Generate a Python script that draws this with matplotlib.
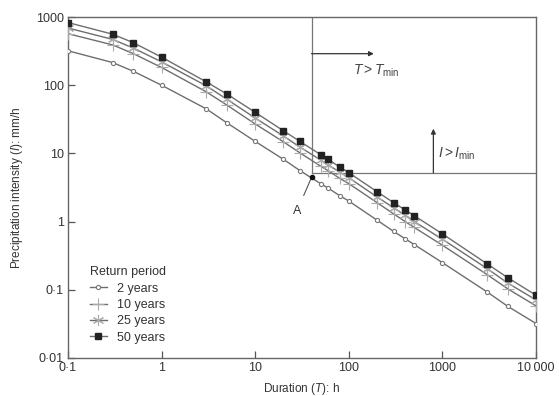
import numpy as np
import matplotlib
matplotlib.use("Agg")
import matplotlib.pyplot as plt

plt.rcParams['font.family'] = ['Liberation Sans', 'DejaVu Sans']
plt.rcParams['mathtext.fontset'] = 'custom'
plt.rcParams['mathtext.rm'] = 'Liberation Sans'
plt.rcParams['mathtext.it'] = 'Liberation Sans:italic'

# storm duration (h)
duration = [0.1, 0.3, 0.5, 1, 3, 5, 10, 20, 30, 50, 60, 80, 100,
            200, 300, 400, 500, 1000, 3000, 5000, 10000]

# precipitation intensity (mm/h) for each return period
i_2yr = [320, 215, 160, 100, 45, 28, 15, 8.2, 5.6, 3.6, 3.1, 2.4, 2.0,
         1.05, 0.72, 0.56, 0.46, 0.25, 0.093, 0.057, 0.032]
i_10yr = [570, 390, 290, 182, 80, 51, 27, 14.8, 10.2, 6.5, 5.6, 4.3, 3.6,
          1.9, 1.3, 1.0, 0.82, 0.45, 0.167, 0.103, 0.058]
i_25yr = [690, 470, 350, 220, 98, 62, 33, 18, 12.4, 8.0, 6.8, 5.3, 4.4,
          2.3, 1.6, 1.23, 1.0, 0.55, 0.205, 0.125, 0.071]
i_50yr = [830, 560, 420, 258, 112, 74, 40, 21.5, 15, 9.6, 8.2, 6.3, 5.2,
          2.75, 1.9, 1.48, 1.22, 0.66, 0.24, 0.15, 0.083]

t_min = 40
i_min = 5.2
point_a = (40, 4.45)

xticks = [0.1, 1, 10, 100, 1000, 10000]
xticklabels = ['0·1', '1', '10', '100', '1000', '10\u2009000']
yticks = [0.01, 0.1, 1, 10, 100, 1000]
yticklabels = ['0·01', '0·1', '1', '10', '100', '1000']

fig = plt.figure(figsize=(5.59, 3.96), dpi=100)
ax = fig.add_axes([0.1216, 0.096, 0.8374, 0.861])

line_col = '#6e6e6e'
ax.plot(duration, i_2yr, color=line_col, lw=1, marker='o', ms=3,
        mfc='white', mec='#777777', mew=0.8, label='2 years', zorder=3)
ax.plot(duration, i_10yr, color=line_col, lw=1, marker='+', ms=8,
        mec='#aaaaaa', mew=0.8, label='10 years', zorder=3)
ax.plot(duration, i_25yr, color=line_col, lw=1, marker=(6, 2, 0), ms=8,
        mec='#aaaaaa', mew=0.8, label='25 years', zorder=3)
ax.plot(duration, i_50yr, color=line_col, lw=1, marker='s', ms=5,
        mfc='#222222', mec='#222222', label='50 years', zorder=4)

ax.set_xscale('log')
ax.set_yscale('log')
ax.set_xlim(0.1, 10000)
ax.set_ylim(0.01, 1000)
ax.set_xticks(xticks)
ax.set_xticklabels(xticklabels)
ax.set_yticks(yticks)
ax.set_yticklabels(yticklabels)
ax.minorticks_off()
ax.tick_params(direction='in', length=5, width=0.9, color='#555555',
               labelsize=9, labelcolor='#333333', pad=3)

for s in ax.spines.values():
    s.set_color('#666666')
    s.set_linewidth(1)

ax.set_xlabel('Duration ($T$): h', fontsize=8.5, color='#333333', labelpad=5)
ax.set_ylabel('Precipitation intensity ($I$): mm/h', fontsize=8.5,
              color='#333333', labelpad=8)

# threshold region T > Tmin, I > Imin
ax.plot([t_min, t_min], [i_min, 1000], color='#777777', lw=0.9, zorder=2)
ax.plot([t_min, 10000], [i_min, i_min], color='#777777', lw=0.9, zorder=2)
ax.annotate('', xy=(185, 290), xytext=(t_min, 290),
            arrowprops=dict(arrowstyle='-|>', color='#333333', lw=0.9,
                            mutation_scale=7, shrinkA=0, shrinkB=0))
ax.annotate('', xy=(800, 23), xytext=(800, i_min),
            arrowprops=dict(arrowstyle='-|>', color='#333333', lw=0.9,
                            mutation_scale=7, shrinkA=0, shrinkB=0))
ax.text(110, 165, r'$T > T_{\mathrm{min}}$', fontsize=10, color='#444444',
        va='center', ha='left')
ax.text(900, 10, r'$I > I_{\mathrm{min}}$', fontsize=10, color='#444444',
        va='center', ha='left')

# point A
ax.plot(*point_a, marker='o', ms=3, color='#111111', zorder=5)
ax.annotate('A', xy=point_a, xytext=(28, 1.45), fontsize=9,
            color='#333333', ha='center', va='center',
            arrowprops=dict(arrowstyle='-', color='#555555', lw=0.8,
                            shrinkA=5, shrinkB=1))

leg = ax.legend(loc='lower left', bbox_to_anchor=(0.03, 0.02),
                title='Return period', frameon=False, fontsize=9,
                handlelength=1.4, handletextpad=0.8, labelspacing=0.35,
                borderaxespad=0.2)
leg.get_title().set_fontsize(9)
leg._legend_box.align = 'left'
for t in leg.get_texts():
    t.set_color('#333333')
leg.get_title().set_color('#333333')

fig.savefig('out.png', dpi=100)
